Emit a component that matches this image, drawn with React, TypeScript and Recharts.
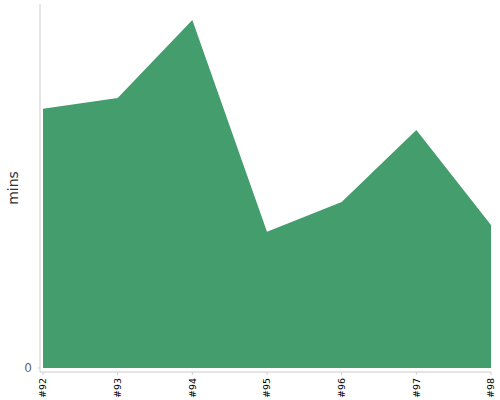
import { AreaChart, Area, XAxis, YAxis } from "recharts";

const builds = ["#92", "#93", "#94", "#95", "#96", "#97", "#98"];
const minutes = [71.2, 74.2, 95.6, 37.4, 45.6, 65.4, 39.3];

const data = builds.map((b, i) => ({ build: b, mins: minutes[i] }));

const FONT = "DejaVu Sans, sans-serif";

const BuildTick = (props: any) => {
  const { x, y, payload } = props;
  return (
    <g transform={`translate(${x},${y})`}>
      <text
        x={0}
        y={0}
        transform="rotate(-90)"
        textAnchor="end"
        dy="0.35em"
        fontSize={9.5}
        fontFamily={FONT}
        fill="#000"
      >
        {payload.value}
      </text>
    </g>
  );
};

export default function App() {
  return (
    <div style={{ position: "absolute", left: 0, top: 0, width: 500, height: 400, background: "#fff" }}>
      <AreaChart
        width={500}
        height={400}
        data={data}
        margin={{ top: 4, right: 9, bottom: 0, left: 0 }}
      >
        <XAxis
          dataKey="build"
          height={28}
          padding={{ left: 3, right: 0 }}
          tickSize={3}
          tickMargin={3}
          stroke="#ccc"
          tick={<BuildTick />}
          interval={0}
        />
        <YAxis
          width={40}
          domain={[-1.1, 100]}
          ticks={[0]}
          tickSize={2}
          tickMargin={6}
          stroke="#ccc"
          tick={{ fill: "#666", fontSize: 12, fontFamily: FONT }}
          label={{
            value: "mins",
            angle: -90,
            position: "insideLeft",
            offset: 13,
            style: { fill: "#333", fontSize: 14, fontFamily: FONT, textAnchor: "middle" },
          }}
        />
        <Area
          type="linear"
          dataKey="mins"
          stroke="none"
          fill="#449d6d"
          fillOpacity={1}
          isAnimationActive={false}
        />
      </AreaChart>
    </div>
  );
}
